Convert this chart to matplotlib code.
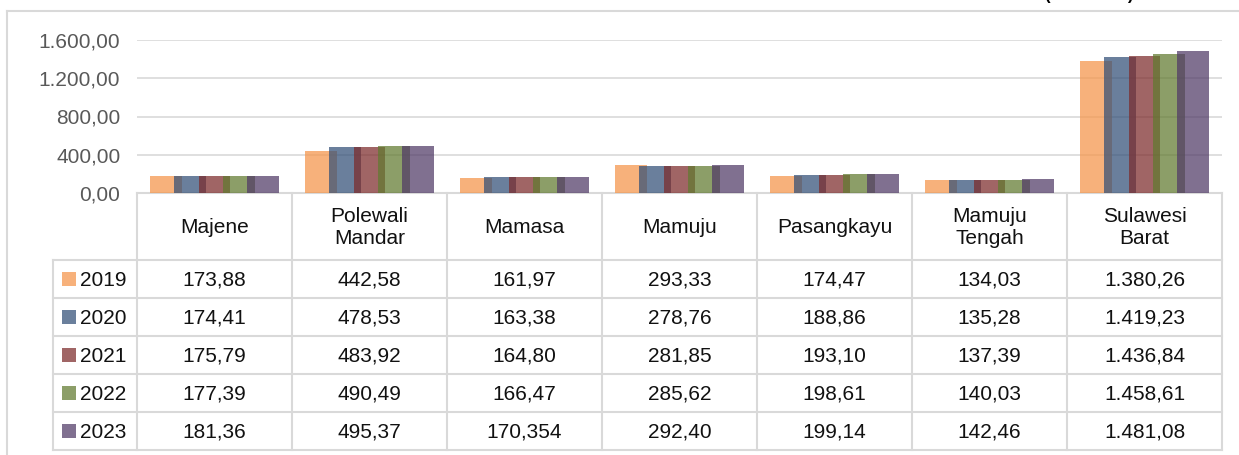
import matplotlib
matplotlib.use("Agg")
import matplotlib.pyplot as plt
from matplotlib.patches import Rectangle
import numpy as np

plt.rcParams["font.family"] = ["Liberation Sans", "DejaVu Sans"]

categories = ["Majene", "Polewali\nMandar", "Mamasa", "Mamuju", "Pasangkayu", "Mamuju\nTengah", "Sulawesi\nBarat"]
years = ["2019", "2020", "2021", "2022", "2023"]
v2019 = [173.88, 442.58, 161.97, 293.33, 174.47, 134.03, 1380.26]
v2020 = [174.41, 478.53, 163.38, 278.76, 188.86, 135.28, 1419.23]
v2021 = [175.79, 483.92, 164.80, 281.85, 193.10, 137.39, 1436.84]
v2022 = [177.39, 490.49, 166.47, 285.62, 198.61, 140.03, 1458.61]
v2023 = [181.36, 495.37, 170.354, 292.40, 199.14, 142.46, 1481.08]
series = [v2019, v2020, v2021, v2022, v2023]
yticks = [0, 400, 800, 1200, 1600]

colors = ["#F5954A", "#335077", "#7D2C2C", "#617A30", "#513B67"]
ALPHA = 0.73
GRID = "#D9D9D9"
W, H = 1239, 455


def fmt_id(v, min_dec=2):
    s = repr(float(v))
    dec = max(min_dec, len(s.split(".")[1]) if "." in s else 0)
    out = f"{v:,.{dec}f}"
    return out.replace(",", "#").replace(".", ",").replace("#", ".")


fig = plt.figure(figsize=(W / 100, H / 100), dpi=100, facecolor="white")

# plot area in pixel coords
px_l, px_r, px_t, px_b = 137, 1222, 40, 193
ax = fig.add_axes([px_l / W, 1 - px_b / H, (px_r - px_l) / W, (px_b - px_t) / H])
n = len(categories)
x = np.arange(n)
step = 0.157
bw = 0.206
for j, vals in enumerate(series):
    ax.bar(x + (j - 2) * step, vals, width=bw, color=colors[j], alpha=ALPHA, lw=0, zorder=3)
ax.set_xlim(-0.5, n - 0.5)
ax.set_ylim(0, 1600)
ax.set_yticks(yticks)
ax.set_yticklabels([fmt_id(t) for t in yticks], fontsize=15, color="#595959")
ax.tick_params(axis="y", length=0, pad=12)
ax.set_xticks([])
ax.grid(axis="y", color=GRID, lw=1.2, zorder=0)
for s in ["left", "right", "top"]:
    ax.spines[s].set_visible(False)
ax.spines["bottom"].set_color(GRID)
ax.spines["bottom"].set_linewidth(1.5)

# overlay in pixel coords for the data table and chart frame
ov = fig.add_axes([0, 0, 1, 1], zorder=-1)
ov.set_xlim(0, W)
ov.set_ylim(H, 0)
ov.axis("off")
ov2 = fig.add_axes([0, 0, 1, 1], zorder=5)
ov2.set_xlim(0, W)
ov2.set_ylim(H, 0)
ov2.axis("off")
ov2.patch.set_alpha(0)

# chart frame
ov.plot([7, W], [11, 11], color=GRID, lw=1.5)
ov.plot([7, 7], [11, H], color=GRID, lw=1.5)

colw = (px_r - px_l) / n
col_edges = [px_l + colw * k for k in range(n + 1)]
leg_l = 53
hdr_b = 260
row_h = 38
row_edges = [hdr_b + row_h * k for k in range(len(years) + 1)]
lc = GRID
lw = 1.5
for xe in col_edges:
    ov2.plot([xe, xe], [px_b, row_edges[-1]], color=lc, lw=lw)
ov2.plot([leg_l, leg_l], [hdr_b, row_edges[-1]], color=lc, lw=lw)
for ye in row_edges:
    ov2.plot([leg_l, px_r], [ye, ye], color=lc, lw=lw)

for i, cat in enumerate(categories):
    cx = (col_edges[i] + col_edges[i + 1]) / 2
    ov2.text(cx, (px_b + hdr_b) / 2 + 1, cat, ha="center", va="center", fontsize=15, color="#111111", linespacing=1.15)
    for j, vals in enumerate(series):
        cy = (row_edges[j] + row_edges[j + 1]) / 2 + 1
        ov2.text(cx, cy, fmt_id(vals[i]), ha="center", va="center", fontsize=15, color="#111111")

for j, yr in enumerate(years):
    cy = (row_edges[j] + row_edges[j + 1]) / 2
    ov2.add_patch(Rectangle((62, cy - 7), 14, 14, fc=colors[j], alpha=ALPHA, ec="none"))
    ov2.text(80, cy + 1, yr, ha="left", va="center", fontsize=15, color="#111111")

# title, cut off at the top edge as in the source image
fig.text(1089 / W, 1.0, "(Ribu Jiwa)", ha="center", va="baseline", fontsize=12, fontweight="bold", color="black")

fig.savefig("out.png", dpi=100, facecolor="white")
